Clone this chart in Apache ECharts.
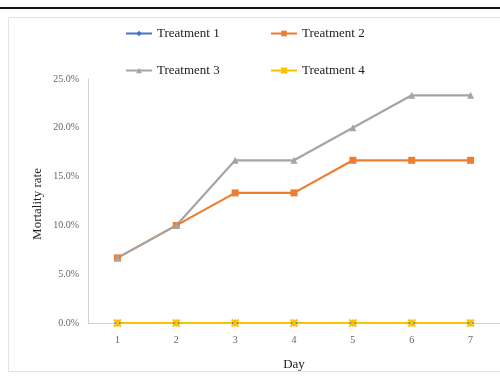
<!DOCTYPE html>
<html><head><meta charset="utf-8">
<script src="https://cdn.jsdelivr.net/npm/echarts@6/dist/echarts.min.js"></script>
<style>html,body{margin:0;padding:0;background:#fff}#c{width:500px;height:376px}</style>
</head><body><div id="c"></div>
<script>
var days = ['1','2','3','4','5','6','7'];
var treatment1 = [0,0,0,0,0,0,0];
var treatment2 = [6.67,10,13.33,13.33,16.67,16.67,16.67];
var treatment3 = [6.67,10,16.67,16.67,20,23.33,23.33];
var treatment4 = [0,0,0,0,0,0,0];
var seriesNames = ['Treatment 1','Treatment 2','Treatment 3','Treatment 4'];

var colors = ['#4472C4','#ED7D31','#A5A5A5','#FFC000'];
var symbols = ['diamond','rect','triangle','path://M0,0L2,2M2,0L0,2M1,0L1,2'];
var datas = [treatment1,treatment2,treatment3,treatment4];
var legendPos = [[125,27],[270,27],[125,64],[270,64]];
var serif = '"Liberation Serif","DejaVu Serif",serif';

var chart = echarts.init(document.getElementById('c'));
chart.setOption({
  animation:false,
  graphic:[
    {type:'rect',shape:{x:0,y:7,width:500,height:2},style:{fill:'#111'},silent:true},
    {type:'rect',shape:{x:8.5,y:17.5,width:500,height:354},style:{fill:'none',stroke:'#e3e3e3',lineWidth:1},silent:true}
  ],
  legend: seriesNames.map(function(n,i){return {
    data:[n], left:legendPos[i][0], top:legendPos[i][1], itemWidth:26, itemHeight:7, itemGap:4,
    textStyle:{fontFamily:serif,fontSize:13,color:'#222'}, padding:0
  };}),
  grid:{left:88,top:79,width:420,height:251,containLabel:false},
  xAxis:{type:'category',data:days,boundaryGap:true,name:'Day',nameLocation:'middle',nameGap:35,
    nameTextStyle:{fontFamily:serif,fontSize:13,color:'#222'},
    axisLine:{lineStyle:{color:'#d0d0d0'}},axisTick:{show:false},
    axisLabel:{color:'#666',fontSize:10,fontFamily:serif,margin:12}},
  yAxis:{type:'value',min:0,max:25,interval:5,name:'Mortality rate',nameLocation:'middle',nameGap:44,
    nameMoveOverlap:false,
    nameTextStyle:{fontFamily:serif,fontSize:13,color:'#222',padding:[0,6,0,0]},
    axisLine:{show:true,lineStyle:{color:'#d0d0d0'}},axisTick:{show:false},splitLine:{show:false},
    axisLabel:{color:'#666',fontSize:10,fontFamily:serif,margin:9,formatter:function(v){return v.toFixed(1)+'%';}}},
  series: seriesNames.map(function(n,i){return {
    name:n,type:'line',data:datas[i],color:colors[i],symbol:symbols[i],symbolSize:7,
    showAllSymbol:true,
    lineStyle:{width:2.2,color:colors[i]},
    itemStyle:{color:colors[i],borderColor:colors[i],borderWidth:i===3?2:0}
  };})
});
</script></body></html>
